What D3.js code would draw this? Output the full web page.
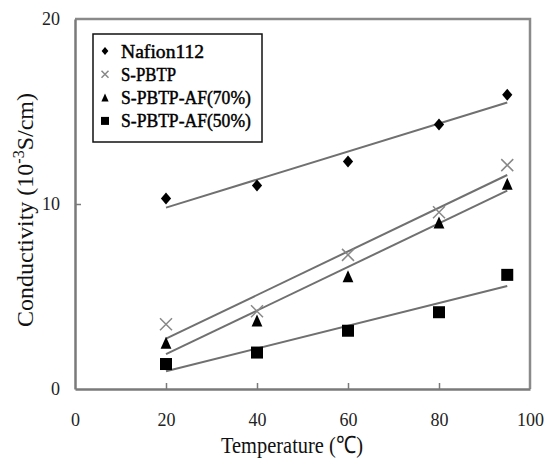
<!DOCTYPE html>
<html>
<head>
<meta charset="utf-8">
<script src="https://cdn.jsdelivr.net/npm/d3@7"></script>
<style>
  html, body { margin: 0; padding: 0; background: #fff; }
  svg { display: block; }
</style>
</head>
<body>
<svg id="chart" width="544" height="459"></svg>
<script>
// Temperatures (°C) at which conductivity was measured
const temperatures = [20, 40, 60, 80, 95];

// Conductivity (10^-3 S/cm) per membrane
const nafion112 = [10.3, 11.0, 12.3, 14.3, 15.9];
const sPBTP = [3.5, 4.2, 7.25, 9.55, 12.1];
const sPBTPAF70 = [2.5, 3.7, 6.1, 9.0, 11.1];
const sPBTPAF50 = [1.35, 1.97, 3.15, 4.15, 6.17];

const seriesNames = ["Nafion112", "S-PBTP", "S-PBTP-AF(70%)", "S-PBTP-AF(50%)"];
const xTicks = [0, 20, 40, 60, 80, 100];
const yTicks = [0, 10, 20];

const series = [
  { name: seriesNames[0], values: nafion112, marker: "diamond" },
  { name: seriesNames[1], values: sPBTP, marker: "cross" },
  { name: seriesNames[2], values: sPBTPAF70, marker: "triangle" },
  { name: seriesNames[3], values: sPBTPAF50, marker: "square" }
];

const svg = d3.select("#chart");
const plotLeft = 75, plotRight = 530, plotTop = 19, plotBottom = 389;

const x = d3.scaleLinear().domain([0, 100]).range([plotLeft, plotRight]);
const y = d3.scaleLinear().domain([0, 20]).range([plotBottom, plotTop]);

const axisColor = "#7a7a7a";
const serif = "'Liberation Serif', 'Times New Roman', serif";

// plot frame (top and right)
svg.append("path")
  .attr("d", `M${plotLeft},${plotTop}H${plotRight}V${plotBottom}`)
  .attr("fill", "none").attr("stroke", "#8a8a8a").attr("stroke-width", 2.5);

// x axis
const gx = svg.append("g")
  .attr("transform", `translate(0,${plotBottom})`)
  .call(d3.axisBottom(x).tickValues(xTicks).tickSizeInner(-6).tickSizeOuter(0).tickPadding(24));
gx.select(".domain").attr("stroke", axisColor).attr("stroke-width", 2.5);
gx.selectAll(".tick line").attr("stroke", axisColor).attr("stroke-width", 1.5)
  .attr("display", d => (d === 0 || d === 100) ? "none" : null);
gx.selectAll("text").attr("font-family", serif).attr("font-size", 18).attr("fill", "#222");

// y axis
const gy = svg.append("g")
  .attr("transform", `translate(${plotLeft},0)`)
  .call(d3.axisLeft(y).tickValues(yTicks).tickSizeInner(-6).tickSizeOuter(0).tickPadding(15));
gy.select(".domain").attr("stroke", axisColor).attr("stroke-width", 2.5);
gy.selectAll(".tick line").attr("stroke", axisColor).attr("stroke-width", 1.5)
  .attr("display", d => (d === 0 || d === 20) ? "none" : null);
gy.selectAll("text").attr("font-family", serif).attr("font-size", 18).attr("fill", "#222");

// axis titles
svg.append("text")
  .attr("x", 292).attr("y", 453)
  .attr("text-anchor", "middle")
  .attr("font-family", serif).attr("font-size", 24).attr("fill", "#111")
  .attr("textLength", 142).attr("lengthAdjust", "spacingAndGlyphs")
  .text("Temperature (℃)");

const yt = svg.append("text")
  .attr("transform", "translate(33,210) rotate(-90)")
  .attr("text-anchor", "middle")
  .attr("font-family", serif).attr("font-size", 24).attr("fill", "#111");
yt.append("tspan").text("Conductivity (10");
yt.append("tspan").attr("dy", -9).attr("font-size", 16).text("-3");
yt.append("tspan").attr("dy", 9).text("S/cm)");

// least-squares trend line across the measured temperatures
function fit(xs, ys) {
  const mx = d3.mean(xs), my = d3.mean(ys);
  const sxy = d3.sum(xs, (v, i) => (v - mx) * (ys[i] - my));
  const sxx = d3.sum(xs, v => (v - mx) * (v - mx));
  const b = sxy / sxx;
  return t => my + b * (t - mx);
}

const line = d3.line().x(d => x(d[0])).y(d => y(d[1]));
const xMin = d3.min(temperatures), xMax = d3.max(temperatures);

series.forEach(s => {
  const f = fit(temperatures, s.values);
  svg.append("path")
    .attr("d", line([[xMin, f(xMin)], [xMax, f(xMax)]]))
    .attr("fill", "none").attr("stroke", "#707070").attr("stroke-width", 2);
});

// marker shapes
function drawMarker(g, type, cx, cy, size) {
  const h = size / 2;
  if (type === "diamond") {
    g.append("path").attr("d", `M${cx},${cy - h}L${cx + h * 0.85},${cy}L${cx},${cy + h}L${cx - h * 0.85},${cy}Z`)
      .attr("fill", "#000");
  } else if (type === "square") {
    g.append("rect").attr("x", cx - h).attr("y", cy - h).attr("width", size).attr("height", size)
      .attr("fill", "#000");
  } else if (type === "triangle") {
    g.append("path").attr("d", `M${cx},${cy - h}L${cx + h * 0.9},${cy + h}L${cx - h * 0.9},${cy + h}Z`)
      .attr("fill", "#000");
  } else if (type === "cross") {
    g.append("path").attr("d", `M${cx - h},${cy - h}L${cx + h},${cy + h}M${cx + h},${cy - h}L${cx - h},${cy + h}`)
      .attr("stroke", "#888").attr("stroke-width", 1.5).attr("fill", "none");
  }
}

const markerSizes = { diamond: 12, cross: 12, triangle: 12, square: 12 };
const pts = svg.append("g");
series.forEach(s => {
  s.values.forEach((v, i) => {
    drawMarker(pts, s.marker, x(temperatures[i]), y(v), markerSizes[s.marker]);
  });
});

// legend
const lg = svg.append("g");
lg.append("rect").attr("x", 93).attr("y", 34).attr("width", 169).attr("height", 108)
  .attr("fill", "#fff").attr("stroke", "#111").attr("stroke-width", 1.5);
const cell = 9.35;
series.forEach((s, i) => {
  const cy = 51 + i * 23.3;
  drawMarker(lg, s.marker, 105, cy, s.marker === "cross" ? 7 : 8);
  lg.append("text")
    .attr("x", 121).attr("y", cy + 6.5)
    .attr("font-family", serif)
    .attr("font-size", 19)
    .attr("fill", "#000")
    .attr("stroke", "#000").attr("stroke-width", 0.45)
    .attr("textLength", s.name.length * cell - 1)
    .attr("lengthAdjust", "spacingAndGlyphs")
    .text(s.name);
});
</script>
</body>
</html>
